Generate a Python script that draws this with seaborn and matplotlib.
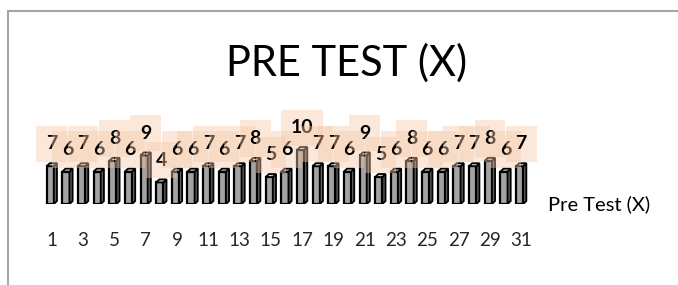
import matplotlib
matplotlib.use("Agg")
import matplotlib.pyplot as plt
import seaborn as sns
import pandas as pd
from matplotlib.patches import Polygon
from matplotlib.lines import Line2D

students = list(range(1, 32))
scores = [7, 6, 7, 6, 8, 6, 9, 4, 6, 6, 7, 6, 7, 8, 5, 6, 10, 7, 7, 6, 9, 5, 6, 8, 6, 6, 7, 7, 8, 6, 7]
tick_labels = [str(n) for n in students if n % 2 == 1]
title = "PRE TEST (X)"
series = "Pre Test (X)"

sns.set_theme(style="white")
plt.rcParams['font.family'] = ['Lato', 'DejaVu Sans']

W, H = 678, 285
fig = plt.figure(figsize=(W / 100, H / 100), dpi=100)
ax = fig.add_axes([44 / W, 1 - 204 / H, (529 - 44) / W, 108 / H])
df = pd.DataFrame({"student": students, "score": scores})
sns.barplot(data=df, x="student", y="score", color="#a3a3a3", edgecolor="black",
            linewidth=1.6, width=0.46, ax=ax, saturation=1)
ax.set_ylim(0, 20)
ax.set_xlim(-0.5, 30.5)

dx, dy = 0.2, 0.55
for p, v in zip(ax.patches, scores):
    x0, w, h = p.get_x(), p.get_width(), p.get_height()
    p.set_x(x0 - 0.1)
    x0 = x0 - 0.1
    side = Polygon([(x0 + w, 0), (x0 + w + dx, dy), (x0 + w + dx, h + dy), (x0 + w, h)],
                   closed=True, facecolor="#5e5e5e", edgecolor="black", lw=1.3, zorder=1.5)
    top = Polygon([(x0, h), (x0 + dx, h + dy), (x0 + w + dx, h + dy), (x0 + w, h)],
                  closed=True, facecolor="#d0d0d0", edgecolor="black", lw=1.3, zorder=2.5)
    ax.add_patch(side)
    ax.add_patch(top)
    ax.annotate(str(v), (x0 + (w + dx) / 2, h), xytext=(0, 16), textcoords="offset points",
                ha="center", va="center", fontsize=14, fontweight="bold", color="black",
                bbox=dict(boxstyle="square,pad=0.5", fc="#f6c9a9", ec="none", alpha=0.42),
                zorder=5, annotation_clip=False)

pos = [i for i, s in enumerate(students) if s % 2 == 1]
ax.set_xticks(pos)
ax.set_xticklabels(tick_labels)
ax.tick_params(axis="x", length=0, labelsize=13.5, pad=20)
ax.set_yticks([])
ax.set_xlabel("")
ax.set_ylabel("")
sns.despine(ax=ax, left=True, bottom=True)

fig.text(347 / W, 1 - 63 / H, title, ha="center", va="center", fontsize=30, color="black")
fig.text(548 / W, 1 - 204 / H, series, ha="left", va="center", fontsize=14.5, color="black")

fig.add_artist(Line2D([8 / W, 8 / W], [0, 1 - 11 / H], color="#a6a6a6", lw=1.5))
fig.add_artist(Line2D([8 / W, 1], [1 - 11 / H, 1 - 11 / H], color="#a6a6a6", lw=1.5))

fig.savefig("out.png", dpi=100)
